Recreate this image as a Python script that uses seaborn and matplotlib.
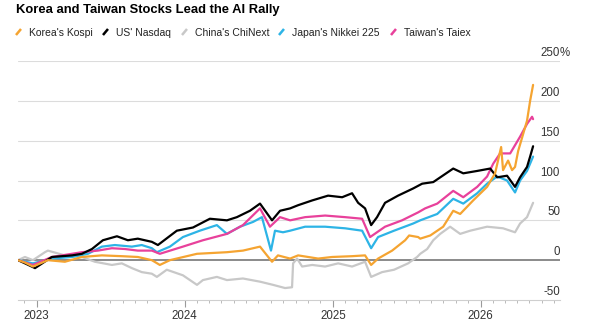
import numpy as np
import pandas as pd
import seaborn as sns
import matplotlib.pyplot as plt
import matplotlib.dates as mdates
from matplotlib.lines import Line2D

# Data: fractional year -> cumulative % change
kospi_t = [2022.874, 2022.921, 2022.975, 2023.076, 2023.191, 2023.306, 2023.441, 2023.576,
           2023.684, 2023.779, 2023.833, 2023.901, 2024.084, 2024.286, 2024.394, 2024.509,
           2024.590, 2024.630, 2024.712, 2024.766, 2024.901, 2024.995, 2025.130, 2025.218,
           2025.259, 2025.306, 2025.401, 2025.489, 2025.516, 2025.577, 2025.591, 2025.659,
           2025.746, 2025.814, 2025.861, 2025.949, 2026.043, 2026.097, 2026.138, 2026.151,
           2026.185, 2026.212, 2026.232, 2026.253, 2026.280, 2026.313, 2026.334, 2026.354]
kospi_v = [0, -3, -8, 0, -2, 4, 6, 5,
           4, 0, -6, 0, 8, 10, 12, 17,
           -2, 6, 2, 6, 2, 4, 5, 6,
           -6, 2, 12, 25, 31, 29, 27, 31,
           42, 62, 58, 75, 92, 109, 142, 113,
           125, 113, 117, 137, 154, 175, 200, 220]

nasdaq_t = [2022.874, 2022.921, 2022.989, 2023.103, 2023.239, 2023.306, 2023.374, 2023.448,
            2023.543, 2023.617, 2023.684, 2023.779, 2023.820, 2023.948, 2024.057, 2024.171,
            2024.286, 2024.353, 2024.441, 2024.509, 2024.590, 2024.644, 2024.712, 2024.766,
            2024.861, 2024.968, 2025.063, 2025.130, 2025.171, 2025.218, 2025.259, 2025.299,
            2025.353, 2025.441, 2025.543, 2025.604, 2025.679, 2025.814, 2025.882, 2025.976,
            2026.064, 2026.111, 2026.178, 2026.232, 2026.266, 2026.313, 2026.334, 2026.354]
nasdaq_v = [0, -4, -10, 4, 6, 8, 14, 25,
            30, 25, 27, 23, 19, 37, 41, 52,
            50, 54, 62, 71, 50, 62, 65, 69,
            75, 81, 79, 84, 72, 65, 44, 54,
            72, 81, 90, 96, 98, 115, 109, 112,
            115, 104, 106, 92, 104, 117, 130, 143]

chinext_t = [2022.874, 2022.921, 2022.975, 2023.056, 2023.076, 2023.191, 2023.306, 2023.394,
             2023.509, 2023.576, 2023.644, 2023.711, 2023.779, 2023.813, 2023.880, 2023.989,
             2024.084, 2024.124, 2024.218, 2024.286, 2024.394, 2024.509, 2024.597, 2024.678,
             2024.725, 2024.732, 2024.759, 2024.793, 2024.861, 2024.948, 2025.036, 2025.130,
             2025.218, 2025.259, 2025.333, 2025.414, 2025.509, 2025.570, 2025.591, 2025.638,
             2025.679, 2025.726, 2025.793, 2025.861, 2025.929, 2026.043, 2026.151, 2026.232,
             2026.266, 2026.313, 2026.354]
chinext_v = [0, 4, 0, 10, 12, 6, 4, -2,
             -6, -4, -10, -15, -17, -21, -12, -19,
             -31, -25, -21, -25, -23, -27, -31, -35,
             -34, -4, 2, -8, -6, -8, -4, -8,
             -2, -21, -15, -12, -4, 4, 8, 14,
             25, 33, 42, 33, 37, 42, 40, 35,
             46, 54, 72]

nikkei_t = [2022.874, 2022.975, 2023.103, 2023.239, 2023.347, 2023.441, 2023.529, 2023.644,
            2023.711, 2023.779, 2023.813, 2023.901, 2023.989, 2024.103, 2024.218, 2024.286,
            2024.374, 2024.462, 2024.522, 2024.583, 2024.610, 2024.664, 2024.712, 2024.813,
            2024.948, 2025.083, 2025.198, 2025.259, 2025.306, 2025.414, 2025.543, 2025.591,
            2025.706, 2025.814, 2025.882, 2025.976, 2026.043, 2026.111, 2026.178, 2026.232,
            2026.266, 2026.313, 2026.354]
nikkei_v = [0, -4, 2, 4, 8, 17, 19, 17,
            19, 15, 10, 17, 29, 37, 44, 33,
            42, 48, 54, 12, 37, 35, 37, 42,
            42, 40, 37, 15, 29, 37, 46, 50,
            58, 77, 71, 84, 96, 105, 100, 85,
            100, 112, 130]

taiex_t = [2022.874, 2022.975, 2023.103, 2023.171, 2023.306, 2023.414, 2023.509, 2023.597,
           2023.684, 2023.779, 2023.833, 2023.989, 2024.124, 2024.286, 2024.394, 2024.509,
           2024.576, 2024.644, 2024.712, 2024.813, 2024.948, 2025.083, 2025.198, 2025.252,
           2025.353, 2025.468, 2025.577, 2025.624, 2025.706, 2025.814, 2025.882, 2025.976,
           2026.043, 2026.084, 2026.131, 2026.199, 2026.266, 2026.313, 2026.347, 2026.354]
taiex_v = [0, -6, 4, 6, 10, 12, 15, 14,
           12, 12, 8, 17, 25, 33, 44, 65,
           42, 54, 50, 54, 56, 54, 52, 29,
           42, 50, 60, 65, 71, 87, 79, 92,
           105, 121, 134, 134, 155, 171, 180, 177]

series_names = ["Korea's Kospi", "US' Nasdaq", "China's ChiNext", "Japan's Nikkei 225", "Taiwan's Taiex"]
series_colors = ["#f5a431", "#000000", "#c8c8c8", "#2db4e6", "#e8419b"]
y_ticks = [-50, 0, 50, 100, 150, 200, 250]


def frac_to_date(t):
    year = int(np.floor(t))
    start = pd.Timestamp(year=year, month=1, day=1)
    days = (pd.Timestamp(year=year + 1, month=1, day=1) - start).days
    return start + pd.Timedelta(days=(t - year) * days)


frames = []
for name, t, v in zip(series_names,
                      [kospi_t, nasdaq_t, chinext_t, nikkei_t, taiex_t],
                      [kospi_v, nasdaq_v, chinext_v, nikkei_v, taiex_v]):
    frames.append(pd.DataFrame({"date": [frac_to_date(x) for x in t], "change": v, "index": name}))
df = pd.concat(frames, ignore_index=True)

sns.set_theme(style="white")
plt.rcParams["font.family"] = ["Liberation Sans", "DejaVu Sans"]

fig = plt.figure(figsize=(6, 3.28), dpi=100)
ax = fig.add_axes([18 / 600, 1 - 300 / 328, 542 / 600, 239 / 328])

# gridlines and zero line
for yv in y_ticks[1:]:
    if yv == 0:
        ax.axhline(0, color="#8a8a8a", lw=1.4, zorder=1)
    else:
        ax.axhline(yv, color="#dcdcdc", lw=0.8, zorder=0)

draw_order = ["China's ChiNext", "Japan's Nikkei 225", "Taiwan's Taiex", "US' Nasdaq", "Korea's Kospi"]
palette = dict(zip(series_names, series_colors))
sns.lineplot(data=df, x="date", y="change", hue="index", hue_order=draw_order,
             palette=palette, linewidth=1.6, legend=False, ax=ax, zorder=3)

ax.set_xlim(frac_to_date(2022.874), frac_to_date(2026.536))
ax.set_ylim(-50, 250)
ax.set_xlabel("")
ax.set_ylabel("")
ax.set_yticks([])

for s in ["top", "right", "left"]:
    ax.spines[s].set_visible(False)
ax.spines["bottom"].set_color("#cfcfcf")
ax.spines["bottom"].set_linewidth(0.8)

ax.xaxis.set_major_locator(mdates.YearLocator())
ax.xaxis.set_major_formatter(mdates.DateFormatter("%Y"))
ax.xaxis.set_minor_locator(mdates.MonthLocator())
ax.tick_params(axis="x", which="major", length=5, width=0.8, color="#9a9a9a",
               labelsize=8.3, labelcolor="#333333", pad=2, bottom=True)
ax.tick_params(axis="x", which="minor", length=2.5, width=0.6, color="#b0b0b0", bottom=True)

# right-hand value labels sitting just above each gridline
for yv in y_ticks:
    ax.annotate(str(yv), xy=(1.0, yv), xycoords=("axes fraction", "data"),
                xytext=(0, 3.5), textcoords="offset points", ha="right", va="baseline",
                fontsize=8.3, color="#333333")
ax.annotate("%", xy=(1.0, y_ticks[-1]), xycoords=("axes fraction", "data"),
            xytext=(0, 3.5), textcoords="offset points", ha="left", va="baseline",
            fontsize=8.3, color="#333333")

# title
fig.text(16 / 600, 1 - 13 / 328, "Korea and Taiwan Stocks Lead the AI Rally",
         fontsize=9.4, fontweight="bold", color="#000000", va="baseline", ha="left")

# legend with slash markers
marker_x = [16, 103, 182, 279, 391]
for name, color, mx in zip(series_names, series_colors, marker_x):
    fig.add_artist(Line2D([mx / 600, (mx + 5) / 600], [1 - 35 / 328, 1 - 29 / 328],
                          transform=fig.transFigure, color=color, lw=1.8, solid_capstyle="butt"))
    fig.text((mx + 13) / 600, 1 - 36 / 328, name, fontsize=7.5, color="#222222",
             va="baseline", ha="left")

fig.savefig("out.png", dpi=100)
